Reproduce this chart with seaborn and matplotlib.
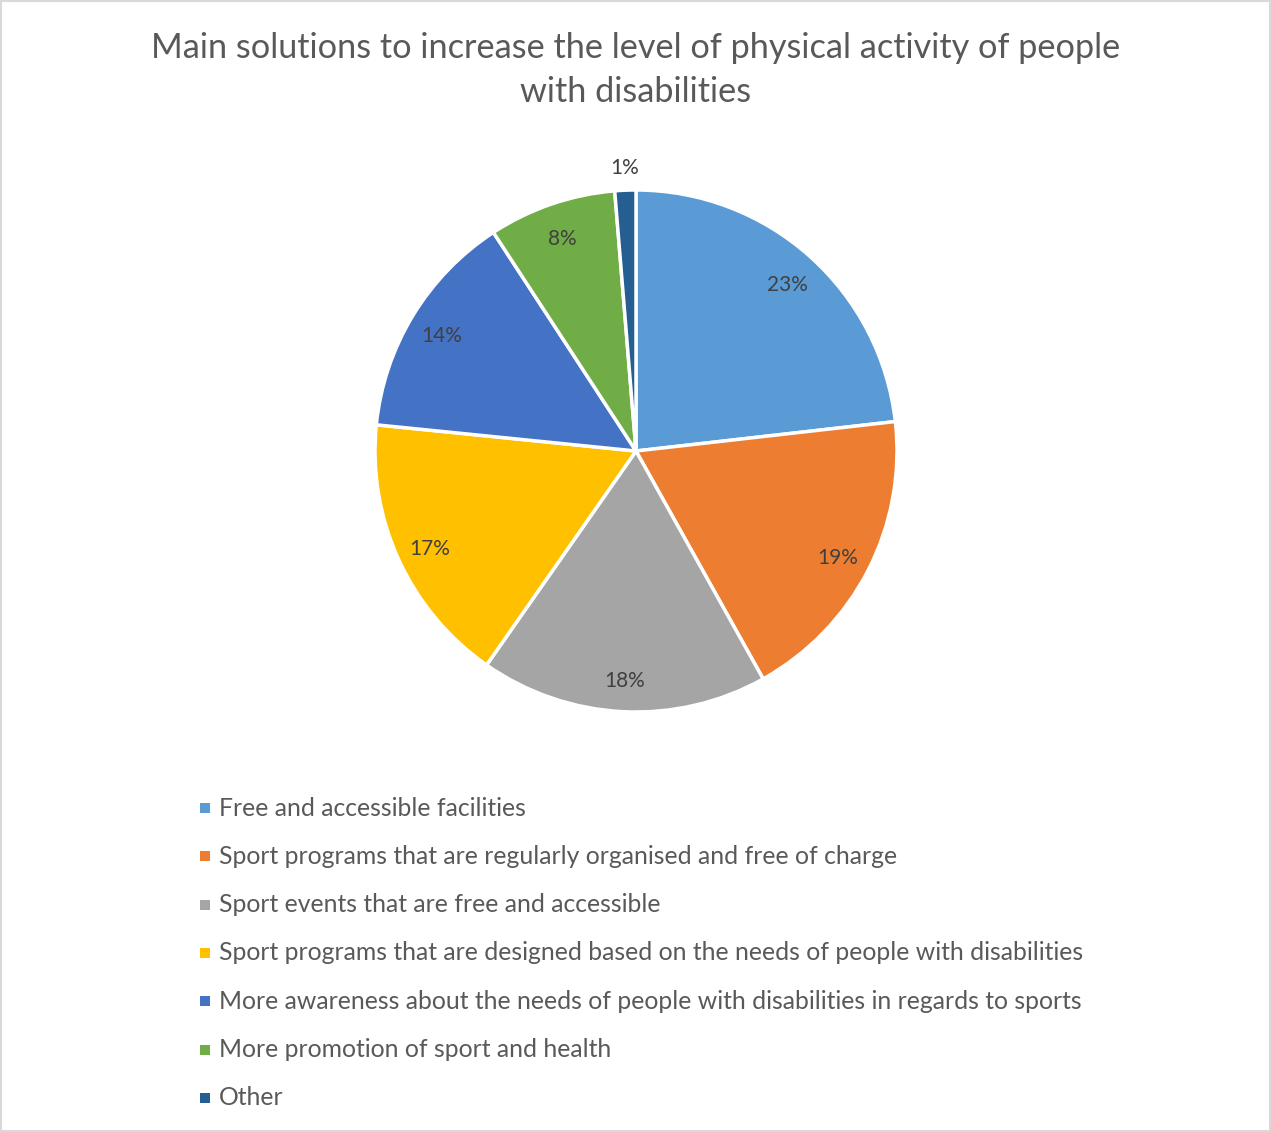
import matplotlib
matplotlib.use("Agg")
import matplotlib.pyplot as plt
import seaborn as sns
from matplotlib.patches import Rectangle

sns.set_theme(style="white")
plt.rcParams['font.family'] = ['Lato', 'DejaVu Sans']

categories = [
    "Free and accessible facilities",
    "Sport programs that are regularly organised and free of charge",
    "Sport events that are free and accessible",
    "Sport programs that are designed based on the needs of people with disabilities",
    "More awareness about the needs of people with disabilities in regards to sports",
    "More promotion of sport and health",
    "Other",
]
shares = [23.2, 18.7, 17.8, 16.9, 14.2, 7.9, 1.3]
colors = ["#5B9BD5", "#ED7D31", "#A5A5A5", "#FFC000", "#4472C4", "#70AD47", "#255E91"]
title = "Main solutions to increase the level of physical activity of people\nwith disabilities"

W, H = 1271, 1132
fig = plt.figure(figsize=(W / 100, H / 100), dpi=100)
fig.patch.set_facecolor("white")
fig.patches.append(Rectangle((0.001, 0.001), 0.998, 0.998, transform=fig.transFigure,
                             fill=False, edgecolor="#D9D9D9", linewidth=1.5))

cx, cy, r = 636, 451, 261
ax = fig.add_axes([(cx - r) / W, (H - cy - r) / H, 2 * r / W, 2 * r / H])
wedges, texts, autotexts = ax.pie(
    shares, colors=colors, startangle=90, counterclock=False,
    autopct="%.0f%%", pctdistance=0.87,
    wedgeprops=dict(edgecolor="white", linewidth=2.5),
    textprops=dict(color="#404040", fontsize=15),
)
# the smallest slice gets its label just outside the rim
autotexts[-1].set_position((-0.045, 1.085))
for t in autotexts[:-1]:
    x, y = t.get_position()
    t.set_position((x, y - 0.012))
ax.set_xlim(-1, 1)
ax.set_ylim(-1, 1)
ax.set_aspect("equal")
ax.axis("off")

fig.text(0.5, 1 - 70 / H, title, ha="center", va="center", fontsize=24.7,
         color="#595959", linespacing=1.45)

y0 = 808
for i, (lab, col) in enumerate(zip(categories, colors)):
    y = y0 + i * 48.3
    fig.patches.append(Rectangle((200 / W, 1 - (y + 5) / H), 10 / W, 10 / H,
                                 transform=fig.transFigure, facecolor=col, edgecolor="none"))
    fig.text(219 / W, 1 - y / H, lab, ha="left", va="center", fontsize=17.8, color="#595959")

fig.savefig("out.png", dpi=100, facecolor="white")
